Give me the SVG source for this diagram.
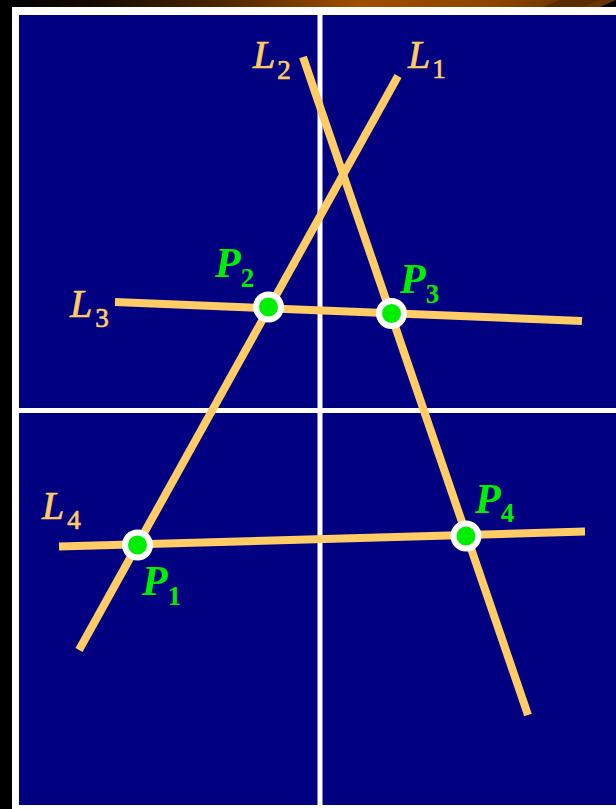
<svg xmlns="http://www.w3.org/2000/svg" width="616" height="809" viewBox="0 0 616 809">
<defs>
<linearGradient id="topg" x1="0" y1="0" x2="1" y2="0">
<stop offset="0" stop-color="#000000"/>
<stop offset="0.15" stop-color="#150a00"/>
<stop offset="0.35" stop-color="#4a2400"/>
<stop offset="0.58" stop-color="#a04e00"/>
<stop offset="0.8" stop-color="#8c4500"/>
<stop offset="0.95" stop-color="#6a3300"/>
</linearGradient>
</defs>
<style>
.ln{stroke:#FFCC66;stroke-width:8;fill:none}
.grid{stroke:#ffffff;stroke-width:5}
.lbl{font-family:"Liberation Serif","Times New Roman",serif;font-style:italic;font-size:40px;fill:#FFCC66;stroke:#FFCC66;stroke-width:0.7}
.plbl{font-family:"Liberation Serif","Times New Roman",serif;font-style:italic;font-weight:bold;font-size:42px;fill:#00ee00}
.sub{font-size:27px;font-style:normal}
.pt{fill:#00ee00;stroke:#ffffff;stroke-width:6}
</style>
<rect x="0" y="0" width="616" height="809" fill="#000000"/>
<rect x="0" y="0" width="616" height="8" fill="url(#topg)"/>
<polygon points="540,8 560,0 600,0 580,8" fill="#5a2c00"/>
<polygon points="598,8 616,0 616,8" fill="#000000"/>
<rect x="12" y="7" width="604" height="802" fill="#ffffff"/>
<rect x="19" y="15" width="597" height="790" fill="#000080"/>
<g id="grid">
<line class="grid" x1="320" y1="15" x2="320" y2="805"/>
<line class="grid" x1="19" y1="410.5" x2="616" y2="410.5"/>
</g>
<g id="connectors">
<line id="L1line" class="ln" x1="79" y1="650" x2="398" y2="76"/>
<line id="L2line" class="ln" x1="303" y1="57" x2="528" y2="715"/>
<line id="L3line" class="ln" x1="115" y1="302" x2="582" y2="321"/>
<line id="L4line" class="ln" x1="59" y1="546.5" x2="585" y2="531.5"/>
</g>
<g id="L1"><text class="lbl" x="408" y="68">L<tspan class="sub" dx="2" dy="10">1</tspan></text></g>
<g id="L2"><text class="lbl" x="253" y="68">L<tspan class="sub" dx="2" dy="11">2</tspan></text></g>
<g id="L3"><text class="lbl" x="70" y="317">L<tspan class="sub" dx="3" dy="10">3</tspan></text></g>
<g id="L4"><text class="lbl" x="42" y="519">L<tspan class="sub" dx="3" dy="10">4</tspan></text></g>
<g id="P1"><circle class="pt" cx="137.5" cy="545" r="12.5"/><text class="plbl" x="142" y="595">P<tspan class="sub" dy="10">1</tspan></text></g>
<g id="P2"><circle class="pt" cx="268.5" cy="307" r="12.5"/><text class="plbl" x="215" y="277">P<tspan class="sub" dy="10">2</tspan></text></g>
<g id="P3"><circle class="pt" cx="391.5" cy="313.5" r="12.5"/><text class="plbl" x="400" y="293">P<tspan class="sub" dy="10">3</tspan></text></g>
<g id="P4"><circle class="pt" cx="466" cy="536" r="12.5"/><text class="plbl" x="475" y="513">P<tspan class="sub" dy="9">4</tspan></text></g>
</svg>
